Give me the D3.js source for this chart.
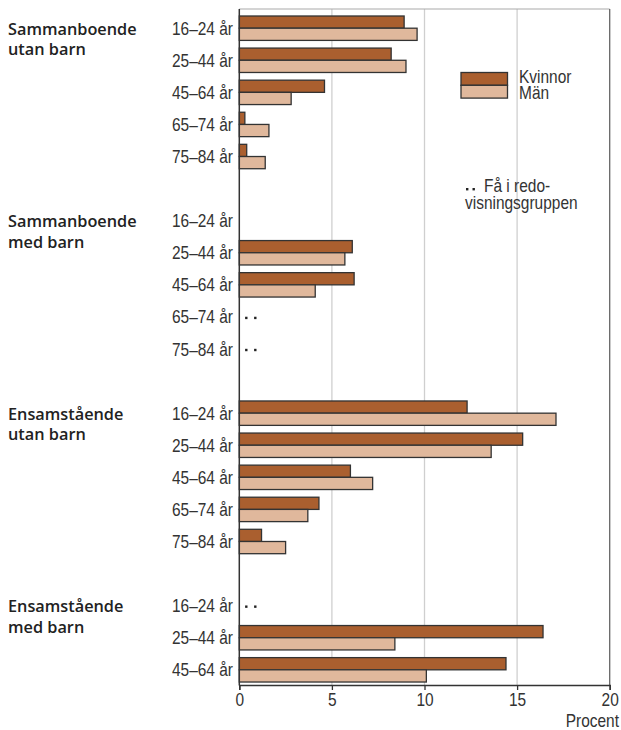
<!DOCTYPE html>
<html>
<head>
<meta charset="utf-8">
<script src="https://cdn.jsdelivr.net/npm/d3@7"></script>
<style>
  html, body { margin: 0; padding: 0; background: #fff; }
  svg { display: block; }
  .age { font-family: "Liberation Sans", Arial, sans-serif; font-size: 18px; fill: #333; }
  .grp { font-family: "Open Sans", sans-serif; font-weight: 600; font-size: 16.3px; fill: #222; }
  .tick text { font-family: "Liberation Sans", Arial, sans-serif; font-size: 18px; fill: #333; }
</style>
</head>
<body>
<script>
// ---- data ----
const groups = ["Sammanboende|utan barn", "Sammanboende|med barn", "Ensamstående|utan barn", "Ensamstående|med barn"];
const ageLabels = ["16–24 år", "25–44 år", "45–64 år", "65–74 år", "75–84 år"];
const groupAgeCounts = [5, 5, 5, 3];
// null = ".." (few in the reference group)
const kvinnor = [
  [8.9, 8.2, 4.6, 0.3, 0.4],
  [0, 6.1, 6.2, null, null],
  [12.3, 15.3, 6.0, 4.3, 1.2],
  [null, 16.4, 14.4]
];
const man = [
  [9.6, 9.0, 2.8, 1.6, 1.4],
  [0, 5.7, 4.1, null, null],
  [17.1, 13.6, 7.2, 3.7, 2.5],
  [null, 8.4, 10.1]
];
const xTicks = [0, 5, 10, 15, 20];
const seriesNames = ["Kvinnor", "Män"];
const colors = ["#aa5f2f", "#e0b89c"];
const noteText = ["Få i redo-", "visningsgruppen"];
const xTitle = "Procent";

// ---- layout ----
const W = 621, H = 730;
const SX = 0.86; // horizontal condensing of the narrow label face
const svg = d3.select("body").append("svg").attr("width", W).attr("height", H);

function ntext(parent, tx, ty, str, anchor) {
  return parent.append("text").attr("class", "age")
    .attr("transform", `translate(${tx},${ty}) scale(${SX},1)`)
    .attr("text-anchor", anchor || "start").text(str);
}

// build slots: each group followed by an empty spacer slot
const rows = [];
const slots = [];
groups.forEach((g, gi) => {
  for (let a = 0; a < groupAgeCounts[gi]; a++) {
    const id = gi + "-" + a;
    slots.push(id);
    rows.push({ id, gi, a, age: ageLabels[a], kv: kvinnor[gi][a], man: man[gi][a] });
  }
  if (gi < groups.length - 1) slots.push("gap" + gi);
});

const x = d3.scaleLinear().domain([0, 20]).range([239.3, 609.7]);
const y = d3.scaleBand().domain(slots).range([10, 683.7]).padding(0);
const barOff = 6, barH = 12.2;
const plotTop = 9, plotBottom = 685;

// gridlines
svg.append("g").selectAll("line").data(xTicks.filter(d => d > 0 && d < 20)).join("line")
  .attr("x1", d => x(d)).attr("x2", d => x(d)).attr("y1", plotTop).attr("y2", plotBottom)
  .attr("stroke", "#cfcfcf").attr("stroke-width", 1.3);
// top border
svg.append("line").attr("x1", x(0)).attr("x2", x(20)).attr("y1", plotTop).attr("y2", plotTop)
  .attr("stroke", "#aaa").attr("stroke-width", 1.2);
// right border
svg.append("line").attr("x1", x(20)).attr("x2", x(20)).attr("y1", plotTop).attr("y2", plotBottom)
  .attr("stroke", "#666").attr("stroke-width", 1.3);

// bars
const barG = svg.append("g");
rows.forEach(r => {
  const top = y(r.id) + barOff;
  [r.kv, r.man].forEach((v, si) => {
    if (v != null && v > 0) {
      barG.append("rect")
        .attr("x", x(0)).attr("y", top + si * barH)
        .attr("width", x(v) - x(0)).attr("height", barH)
        .attr("fill", colors[si]).attr("stroke", "#333").attr("stroke-width", 1.3);
    }
  });
  if (r.kv == null) {
    const cy = top + barH + 1;
    barG.selectAll(null).data([7, 16]).join("rect")
      .attr("x", d => x(0) + d - 1.2).attr("y", cy - 1.2).attr("width", 2.4).attr("height", 2.4).attr("fill", "#222");
  }
});

// age labels
const ageG = svg.append("g");
rows.forEach(d => ntext(ageG, 233, y(d.id) + barOff + barH + 6.5, d.age, "end"));

// group labels
groups.forEach((g, gi) => {
  const first = rows.find(r => r.gi === gi);
  const t = svg.append("text").attr("class", "grp").attr("x", 8).attr("y", y(first.id) + barOff + barH + 6.5);
  g.split("|").forEach((line, li) => {
    t.append("tspan").attr("x", 8).attr("dy", li === 0 ? 0 : 20.5).text(line);
  });
});

// y axis line
svg.append("line").attr("x1", x(0)).attr("x2", x(0)).attr("y1", plotTop).attr("y2", plotBottom + 0.5)
  .attr("stroke", "#333").attr("stroke-width", 1.5);

// x axis
const xAxis = d3.axisBottom(x).tickValues(xTicks).tickSize(5).tickPadding(3).tickFormat(d3.format("d"));
const axG = svg.append("g").attr("transform", `translate(0,${plotBottom})`).call(xAxis);
axG.select(".domain").attr("stroke", "#333").attr("stroke-width", 1.5);
axG.selectAll(".tick line").attr("stroke", "#333").attr("stroke-width", 1.3);
axG.selectAll(".tick text").attr("transform", `scale(${SX},1)`);

ntext(svg, 619, 727, xTitle, "end");

// legend
const lg = svg.append("g");
seriesNames.forEach((s, i) => {
  lg.append("rect").attr("x", 461).attr("y", 72.5 + i * 12.8).attr("width", 46.5).attr("height", 12.8)
    .attr("fill", colors[i]).attr("stroke", "#333").attr("stroke-width", 1.3);
  ntext(lg, 519, 83 + i * 16, s);
});

// note
lg.selectAll(null).data([0, 1]).join("rect")
  .attr("x", d => 466 + d * 6.5).attr("y", 188).attr("width", 2.4).attr("height", 2.4).attr("fill", "#222");
ntext(lg, 484, 191.5, noteText[0]);
ntext(lg, 465, 208.5, noteText[1]);
</script>
</body>
</html>
